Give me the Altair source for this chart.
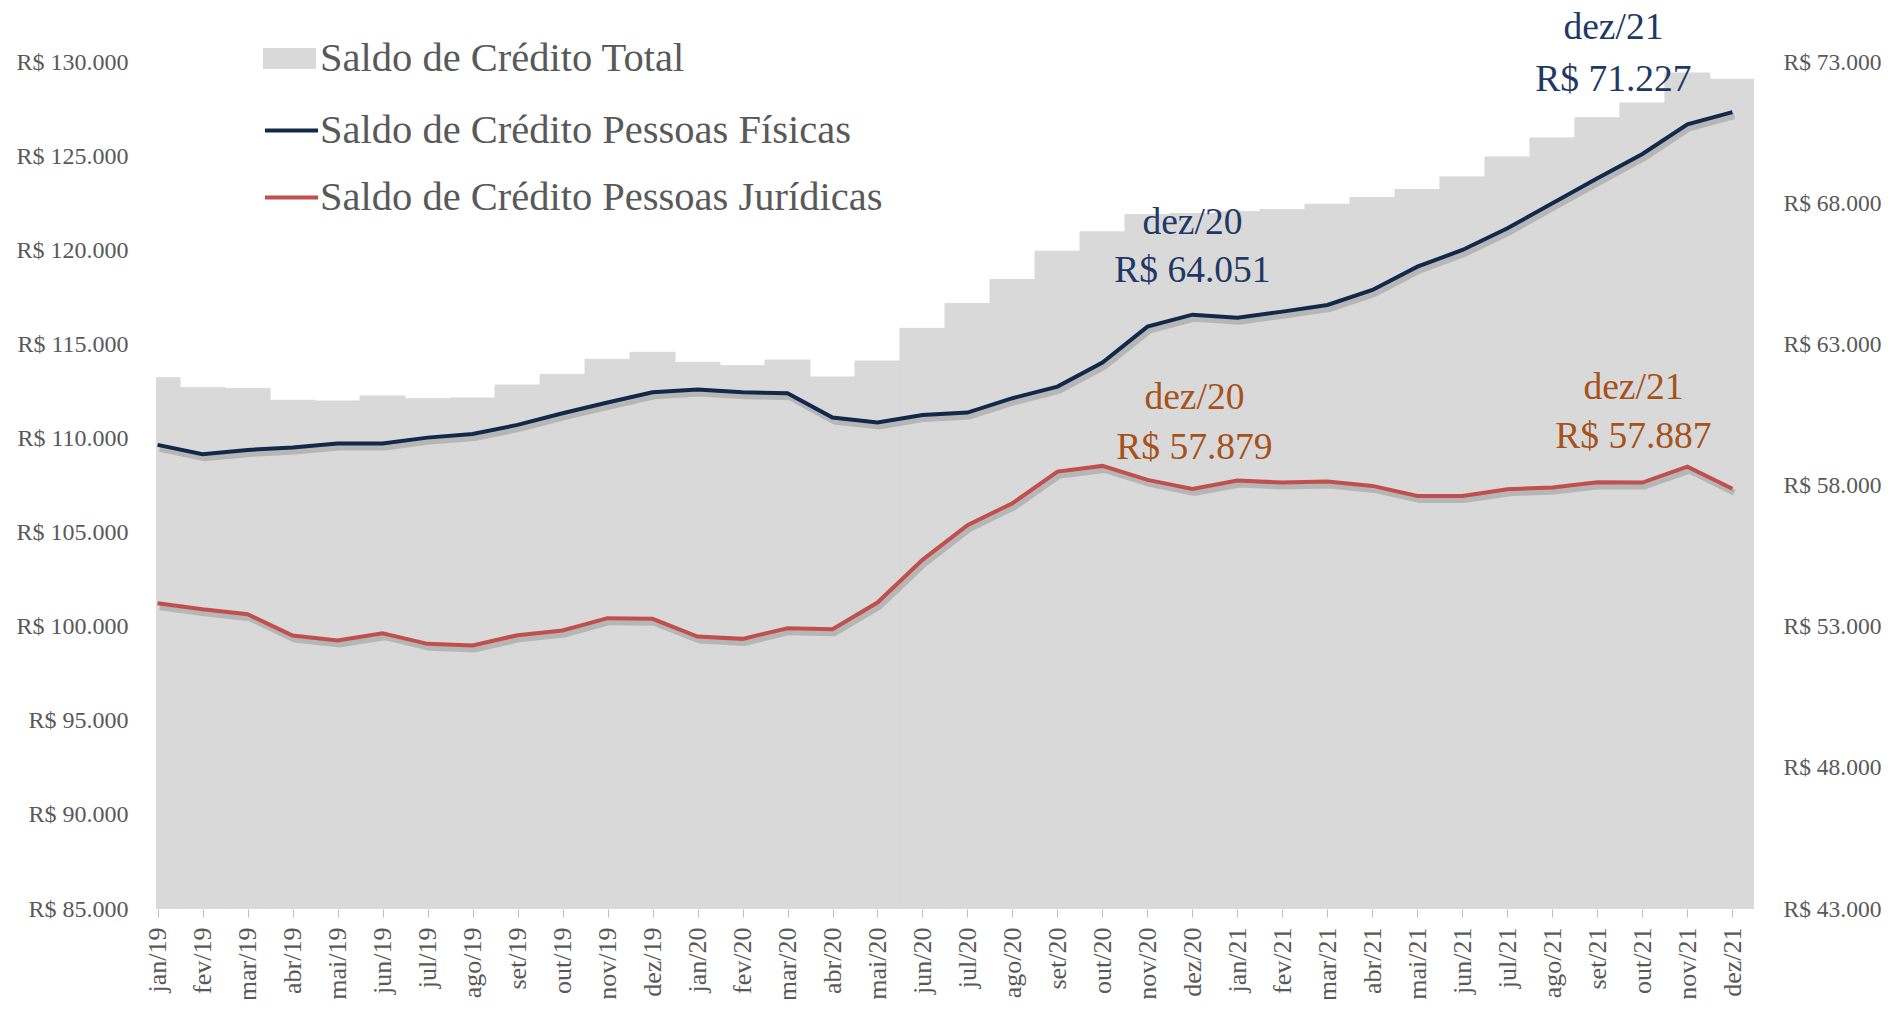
import altair as alt
import pandas as pd

FONT = "Liberation Serif"

months = ['jan/19', 'fev/19', 'mar/19', 'abr/19', 'mai/19', 'jun/19', 'jul/19', 'ago/19',
          'set/19', 'out/19', 'nov/19', 'dez/19', 'jan/20', 'fev/20', 'mar/20', 'abr/20',
          'mai/20', 'jun/20', 'jul/20', 'ago/20', 'set/20', 'out/20', 'nov/20', 'dez/20',
          'jan/21', 'fev/21', 'mar/21', 'abr/21', 'mai/21', 'jun/21', 'jul/21', 'ago/21',
          'set/21', 'out/21', 'nov/21', 'dez/21']

total = [113227, 112696, 112660, 112026, 111990, 112255, 112112, 112150, 112840, 113408,
         114203, 114575, 114044, 113863, 114166, 113264, 114115, 115848, 117175, 118449,
         119952, 120976, 121900, 121950, 122050, 122165, 122447, 122802, 123227, 123896,
         124958, 125966, 127040, 127824, 129416, 129082]

pf = [59438, 59108, 59261, 59342, 59484, 59484, 59696, 59827, 60146, 60561, 60938, 61304,
      61397, 61304, 61269, 60405, 60228, 60500, 60584, 61092, 61502, 62352, 63627, 64051,
      63946, 64158, 64395, 64926, 65752, 66343, 67111, 67997, 68882, 69742, 70794, 71227]

pj = [53832, 53619, 53442, 52686, 52509, 52769, 52391, 52332, 52698, 52863, 53301, 53277,
      52650, 52568, 52946, 52911, 53855, 55366, 56596, 57373, 58493, 58694, 58199, 57879,
      58174, 58103, 58138, 57986, 57632, 57632, 57869, 57928, 58117, 58103, 58670, 57887]

S_TOTAL = 'Saldo de Crédito Total'
S_PF = 'Saldo de Crédito Pessoas Físicas'
S_PJ = 'Saldo de Crédito Pessoas Jurídicas'

ann_month = ['dez/20', 'dez/21', 'dez/20', 'dez/21']
ann_series = [S_PF, S_PF, S_PJ, S_PJ]
ann_value = [64051, 71227, 57879, 57887]
ann_text = [['dez/20', 'R$ 64.051'], ['dez/21', 'R$ 71.227'],
            ['dez/20', 'R$ 57.879'], ['dez/21', 'R$ 57.887']]

GRAY = '#D9D9D9'
NAVY = '#13294B'
RED = '#C0504D'
NAVY_TXT = '#1F3864'
BROWN_TXT = '#A5521B'
LABEL = '#595959'

df = pd.DataFrame({'idx': list(range(len(months))), 'mes': months, 'total': total,
                   'serie': [S_TOTAL] * len(months)})
long = pd.concat([
    pd.DataFrame({'idx': list(range(len(months))), 'valor': pf, 'serie': S_PF}),
    pd.DataFrame({'idx': list(range(len(months))), 'valor': pj, 'serie': S_PJ}),
])
ann = pd.DataFrame({'idx': [months.index(m) for m in ann_month], 'serie': ann_series,
                    'valor': ann_value, 'txt': ann_text, 'k': [0, 1, 2, 3]})

money = "'R$ ' + replace(format(datum.value, ',.0f'), ',', '.')"
month_expr = "[" + ",".join("'%s'" % m for m in months) + "][datum.value]"

x_scale = alt.Scale(domain=[-0.035, 35.48], nice=False, zero=False)
x_axis = alt.Axis(values=list(range(len(months))), labelExpr=month_expr, labelAngle=-90,
                  labelFont=FONT, labelFontSize=26, labelColor=LABEL, labelPadding=10,
                  ticks=True, tickSize=8, tickColor='#BFBFBF', tickWidth=1,
                  domain=False, grid=False, title=None, labelOverlap=False)

left_axis = alt.Axis(values=list(range(85000, 130001, 5000)), labelExpr=money,
                     labelFont=FONT, labelFontSize=24, labelColor=LABEL, labelPadding=28,
                     ticks=False, domain=False, grid=False, title=None, orient='left')
right_axis = alt.Axis(values=list(range(43000, 73001, 5000)), labelExpr=money,
                      labelFont=FONT, labelFontSize=23.5, labelColor=LABEL, labelPadding=29,
                      ticks=False, domain=False, grid=False, title=None, orient='right')

y_left = alt.Scale(domain=[85000, 130000], nice=False, zero=False)
y_right = alt.Scale(domain=[43000, 73000], nice=False, zero=False)

bars = alt.Chart(df).transform_calculate(
    x0='datum.idx - 0.5', x1='datum.idx + 0.5'
).mark_rect(clip=True, stroke=GRAY, strokeWidth=1).encode(
    x=alt.X('x0:Q', scale=x_scale, axis=x_axis),
    x2='x1:Q',
    y=alt.Y('total:Q', scale=y_left, axis=left_axis),
    y2=alt.datum(85000),
    fill=alt.Fill('serie:N', scale=alt.Scale(domain=[S_TOTAL], range=[GRAY]),
                  legend=alt.Legend(orient='none', legendX=107, legendY=-30, title=None,
                                    direction='vertical',
                                    symbolType='M-1,-0.4H1V0.4H-1Z', symbolSize=2809,
                                    symbolStrokeWidth=0, symbolOpacity=1,
                                    labelFont=FONT, labelFontSize=40.5, labelColor=LABEL,
                                    labelOffset=4, padding=0, labelLimit=800)),
)

shadow = alt.Chart(long).mark_line(color='#000000', opacity=0.16, strokeWidth=6,
                                   xOffset=2, yOffset=4).encode(
    x=alt.X('idx:Q', scale=x_scale, axis=x_axis),
    y=alt.Y('valor:Q', scale=y_right, axis=right_axis),
    detail='serie:N',
)

lines = alt.Chart(long).mark_line(strokeWidth=4).encode(
    x=alt.X('idx:Q', scale=x_scale, axis=x_axis),
    y=alt.Y('valor:Q', scale=y_right, axis=right_axis),
    stroke=alt.Stroke('serie:N', scale=alt.Scale(domain=[S_PF, S_PJ], range=[NAVY, RED]),
                      legend=alt.Legend(orient='none', legendX=107, legendY=40, title=None,
                                        direction='vertical',
                                        symbolType='stroke', symbolSize=2809,
                                        symbolStrokeWidth=4, rowPadding=18,
                                        labelFont=FONT, labelFontSize=40.5, labelColor=LABEL,
                                        labelOffset=0, padding=0, labelLimit=800)),
)

ann_layers = []
offsets = [(0, -92, 48, NAVY_TXT), (-119, -84, 52, NAVY_TXT),
           (2, -91, 50, BROWN_TXT), (-99, -101, 49, BROWN_TXT)]
for k, (dx, dy, lh, col) in enumerate(offsets):
    ann_layers.append(
        alt.Chart(ann).transform_filter(alt.datum.k == k).mark_text(
            font=FONT, fontSize=37.5, color=col, dx=dx, dy=dy, lineHeight=lh,
            align='center', baseline='middle'
        ).encode(
            x=alt.X('idx:Q', scale=x_scale, axis=x_axis),
            y=alt.Y('valor:Q', scale=y_right, axis=right_axis),
            text='txt',
        )
    )

right_layer = alt.layer(shadow, lines, *ann_layers)

chart = alt.layer(bars, right_layer).resolve_scale(y='independent').properties(
    width=1598, height=847,
    autosize=alt.AutoSizeParams(type='none'),
    padding={'left': 148, 'top': 54, 'right': 129, 'bottom': 90},
    background='white',
).configure_view(stroke=None)

chart.save("out.html", embed_options={"renderer": "svg", "actions": False})
